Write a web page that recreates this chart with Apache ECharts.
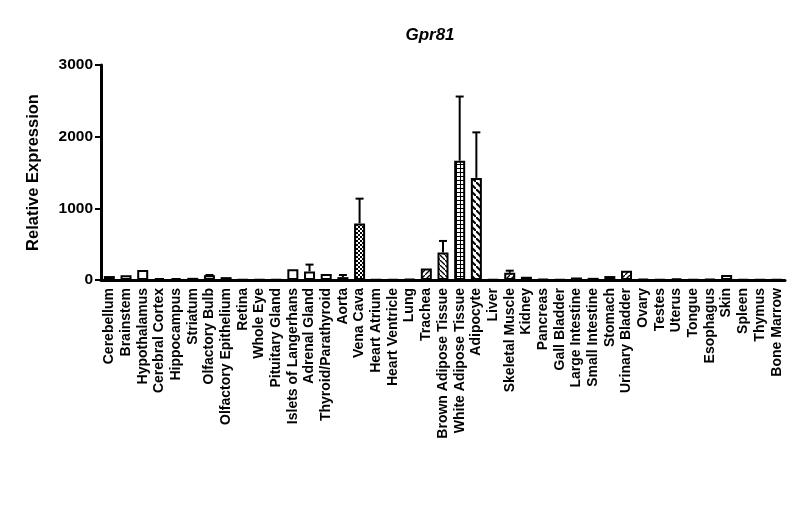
<!DOCTYPE html>
<html style="height: 100%">
<head>
<meta charset="utf-8">
</head>
<body style="height: 100%; margin: 0; background: #fff">
<div id="container" style="width: 800px; height: 515px"></div>
<script type="text/javascript" src="https://cdn.jsdelivr.net/npm/echarts@6/dist/echarts.min.js"></script>
<script type="text/javascript">
var tissues = ['Cerebellum', 'Brainstem', 'Hypothalamus', 'Cerebral Cortex', 'Hippocampus', 'Striatum',
	'Olfactory Bulb', 'Olfactory Epithelium', 'Retina', 'Whole Eye', 'Pituitary Gland', 'Islets of Langerhans',
	'Adrenal Gland', 'Thyroid/Parathyroid', 'Aorta', 'Vena Cava', 'Heart Atrium', 'Heart Ventricle', 'Lung',
	'Trachea', 'Brown Adipose Tissue', 'White Adipose Tissue', 'Adipocyte', 'Liver', 'Skeletal Muscle', 'Kidney',
	'Pancreas', 'Gall Bladder', 'Large Intestine', 'Small Intestine', 'Stomach', 'Urinary Bladder', 'Ovary',
	'Testes', 'Uterus', 'Tongue', 'Esophagus', 'Skin', 'Spleen', 'Thymus', 'Bone Marrow'];
var expression = [55, 65, 140, 25, 25, 30, 65, 40, 5, 8, 5, 150,
	120, 85, 40, 790, 5, 8, 12,
	160, 385, 1665, 1425, 5, 100, 45,
	12, 8, 35, 30, 55, 130, 15,
	5, 20, 5, 12, 70, 8, 5, 5];
var sem = [0, 0, 0, 0, 0, 0, 5, 0, 0, 0, 0, 0,
	95, 0, 30, 345, 0, 0, 0,
	0, 160, 895, 635, 0, 30, 0,
	0, 0, 0, 0, 0, 0, 0,
	0, 0, 0, 0, 0, 0, 0, 0];
var yTicks = [0, 1000, 2000, 3000];

// fill patterns
function makePattern(kind) {
	var c = document.createElement('canvas');
	var s = 4;
	if (kind == 'diag' || kind == 'back' || kind == 'wide') s = kind == 'wide' ? 7 : 5;
	c.width = s; c.height = s;
	var ctx = c.getContext('2d');
	ctx.fillStyle = '#fff';
	ctx.fillRect(0, 0, s, s);
	ctx.fillStyle = '#000';
	ctx.strokeStyle = '#000';
	if (kind == 'check') {
		ctx.fillRect(0, 0, 2, 2);
		ctx.fillRect(2, 2, 2, 2);
	} else if (kind == 'grid') {
		ctx.fillRect(0, 0, s, 1);
		ctx.fillRect(0, 0, 1, s);
	} else if (kind == 'diag') {
		ctx.lineWidth = 1.3;
		ctx.beginPath();
		ctx.moveTo(-1, s + 1); ctx.lineTo(s + 1, -1);
		ctx.stroke();
	} else {
		ctx.lineWidth = kind == 'wide' ? 2 : 1.3;
		ctx.beginPath();
		ctx.moveTo(-1, -1); ctx.lineTo(s + 1, s + 1);
		ctx.stroke();
	}
	return { image: c, repeat: 'repeat' };
}
var fills = {
	'Vena Cava': 'check',
	'Trachea': 'diag',
	'Brown Adipose Tissue': 'back',
	'White Adipose Tissue': 'grid',
	'Adipocyte': 'wide',
	'Skeletal Muscle': 'diag',
	'Urinary Bladder': 'diag'
};

var barData = expression.map(function(v, i) {
	var f = fills[tissues[i]];
	return {
		value: v,
		itemStyle: { color: f ? makePattern(f) : '#fff' }
	};
});
var errData = expression.map(function(v, i) {
	return [i, v, sem[i]];
});

var dom = document.getElementById("container");
var myChart = echarts.init(dom);
var font = 'Liberation Sans, Arial, sans-serif';
var option = {
	animation: false,
	title: {
		text: 'Gpr81',
		left: 425,
		top: 22,
		textAlign: 'center',
		textStyle: { fontFamily: font, fontSize: 17, fontWeight: 'bold', fontStyle: 'italic', color: '#000' }
	},
	grid: { left: 101, right: 15, top: 65, bottom: 235 },
	xAxis: {
		type: 'category',
		data: tissues,
		axisLine: { lineStyle: { color: '#000', width: 3 } },
		axisTick: { alignWithLabel: true, length: 6, lineStyle: { color: '#000', width: 2 } },
		axisLabel: { rotate: 90, interval: 0, margin: 8, color: '#000', fontFamily: font, fontSize: 14, fontWeight: 'bold' }
	},
	yAxis: {
		type: 'value',
		min: yTicks[0],
		max: yTicks[yTicks.length - 1],
		interval: yTicks[1] - yTicks[0],
		name: 'Relative Expression',
		nameLocation: 'middle',
		nameGap: 59,
		nameTextStyle: { color: '#000', fontFamily: font, fontSize: 16.5, fontWeight: 'bold' },
		splitLine: { show: false },
		axisLine: { show: true, lineStyle: { color: '#000', width: 3 } },
		axisTick: { show: true, length: 6, lineStyle: { color: '#000', width: 2 } },
		axisLabel: {
			margin: 8, color: '#000', fontFamily: font, fontSize: 15.5, fontWeight: 'bold',
			formatter: function(v) { return String(v); }
		}
	},
	series: [{
		type: 'bar',
		data: barData,
		barWidth: 11,
		itemStyle: { borderColor: '#000', borderWidth: 2 }
	}, {
		type: 'custom',
		data: errData,
		z: 1,
		renderItem: function(params, api) {
			var i = api.value(0);
			var top = api.coord([i, api.value(1) + api.value(2)]);
			var base = api.coord([i, api.value(1)]);
			if (api.value(2) <= 0) return;
			return {
				type: 'group',
				children: [{
					type: 'line',
					shape: { x1: top[0], y1: top[1], x2: base[0], y2: base[1] },
					style: { stroke: '#000', lineWidth: 2 }
				}, {
					type: 'line',
					shape: { x1: top[0] - 4, y1: top[1], x2: top[0] + 4, y2: top[1] },
					style: { stroke: '#000', lineWidth: 2 }
				}]
			};
		}
	}]
};
myChart.setOption(option, true);
</script>
</body>
</html>
